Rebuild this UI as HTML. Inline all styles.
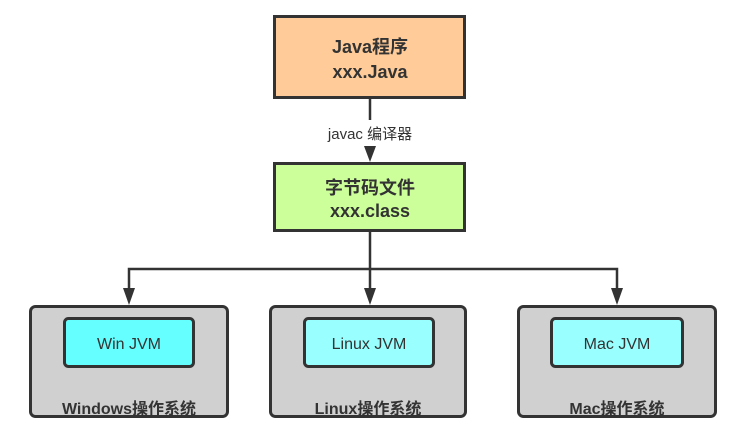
<!DOCTYPE html>
<html><head><meta charset="utf-8"><style>
html,body{margin:0;padding:0;background:#fff;}
svg{display:block;}
text{font-family:"Liberation Sans","Noto Sans CJK SC",sans-serif;fill:#333;}
.b{font-weight:bold;font-size:18px;}
</style></head><body>
<svg width="753" height="433" viewBox="0 0 753 433" xmlns="http://www.w3.org/2000/svg">
<g stroke="#333" stroke-width="3">
<rect x="274.5" y="16.5" width="190" height="81" fill="#ffcc99"/>
<rect x="274.5" y="163.5" width="190" height="67" fill="#ccff99"/>
</g>
<g stroke="#333" stroke-width="2.5" fill="none">
<line x1="370" y1="98" x2="370" y2="120"/>
<line x1="370" y1="146" x2="370" y2="148"/>
<line x1="370" y1="231" x2="370" y2="290"/>
<polyline points="129,290 129,269 617,269 617,290"/>
</g>
<g fill="#333">
<polygon points="364,146 376,146 370,162"/>
<polygon points="123,288 135,288 129,305"/>
<polygon points="364,288 376,288 370,305"/>
<polygon points="611,288 623,288 617,305"/>
</g>
<rect x="320" y="121" width="100" height="24" fill="#fff"/>
<text x="370" y="139" font-size="15" text-anchor="middle">javac 编译器</text>
<text class="b" x="370" y="53" text-anchor="middle">Java程序</text>
<text class="b" x="370" y="78" text-anchor="middle">xxx.Java</text>
<text class="b" x="370" y="194" text-anchor="middle">字节码文件</text>
<text class="b" x="370" y="217" text-anchor="middle">xxx.class</text>
<g stroke="#333" stroke-width="3">
<rect x="30.5" y="306.5" width="197" height="110" rx="5" fill="#d0d0d0"/>
<rect x="270.5" y="306.5" width="195" height="110" rx="5" fill="#d0d0d0"/>
<rect x="518.5" y="306.5" width="197" height="110" rx="5" fill="#d0d0d0"/>
<rect x="64.5" y="318.5" width="129" height="48" rx="4" fill="#66ffff"/>
<rect x="304.5" y="318.5" width="129" height="48" rx="4" fill="#99ffff"/>
<rect x="551.5" y="318.5" width="131" height="48" rx="4" fill="#99ffff"/>
</g>
<g font-size="16" text-anchor="middle">
<text x="129" y="349">Win JVM</text>
<text x="369" y="349">Linux JVM</text>
<text x="617" y="349">Mac JVM</text>
</g>
<g class="b" text-anchor="middle" style="font-size:16px">
<text x="129" y="414">Windows操作系统</text>
<text x="368" y="414">Linux操作系统</text>
<text x="617" y="414">Mac操作系统</text>
</g>
</svg>
</body></html>
